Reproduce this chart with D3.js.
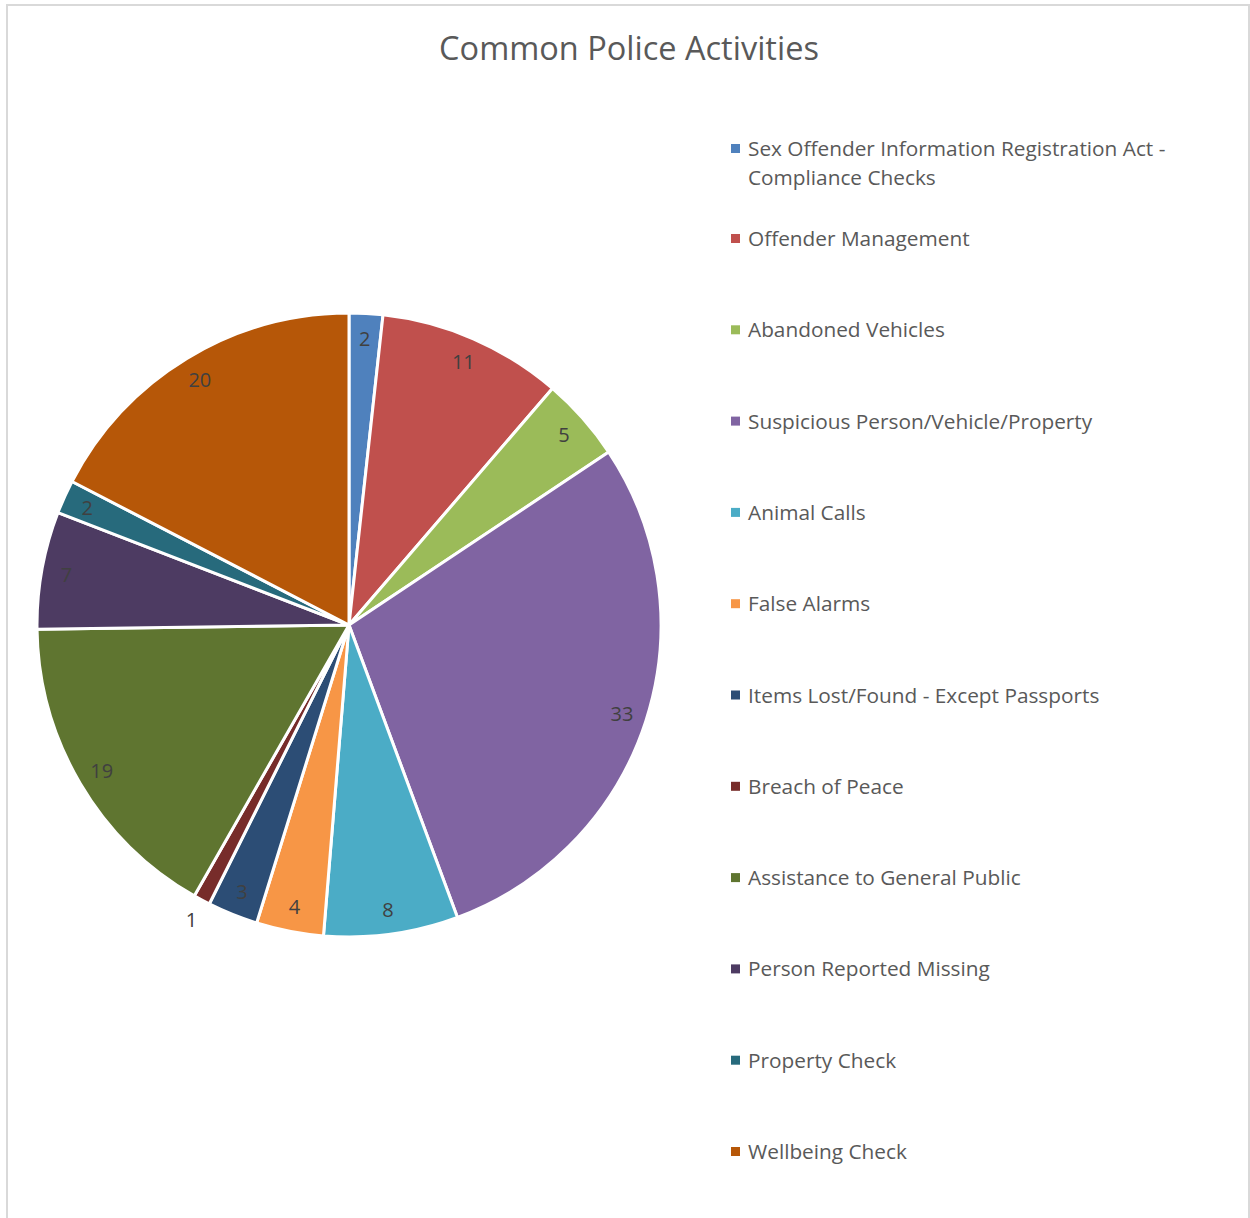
<!DOCTYPE html>
<html><head><meta charset="utf-8">
<script src="https://cdn.jsdelivr.net/npm/d3@7/dist/d3.min.js"></script>
<style>html,body{margin:0;padding:0;background:#fff;}</style>
</head><body>
<svg id="chart" width="1250" height="1218"></svg>
<script>
const title = "Common Police Activities";
const categories = [
  "Sex Offender Information Registration Act - Compliance Checks",
  "Offender Management",
  "Abandoned Vehicles",
  "Suspicious Person/Vehicle/Property",
  "Animal Calls",
  "False Alarms",
  "Items Lost/Found - Except Passports",
  "Breach of Peace",
  "Assistance to General Public",
  "Person Reported Missing",
  "Property Check",
  "Wellbeing Check"
];
const legendLines = [
  ["Sex Offender Information Registration Act -", "Compliance Checks"],
  ["Offender Management"],
  ["Abandoned Vehicles"],
  ["Suspicious Person/Vehicle/Property"],
  ["Animal Calls"],
  ["False Alarms"],
  ["Items Lost/Found - Except Passports"],
  ["Breach of Peace"],
  ["Assistance to General Public"],
  ["Person Reported Missing"],
  ["Property Check"],
  ["Wellbeing Check"]
];
const values = [2, 11, 5, 33, 8, 4, 3, 1, 19, 7, 2, 20];
const colors = ["#4F81BD","#C0504D","#9BBB59","#8064A2","#4BACC6","#F79646",
                "#2C4D75","#772C2A","#5F7530","#4D3B62","#276A7C","#B65708"];

const svg = d3.select("#chart");
const font = "'Open Sans', sans-serif";

// frame
svg.append("rect").attr("x", 7).attr("y", 5).attr("width", 1242).attr("height", 1230)
  .attr("fill", "none").attr("stroke", "#d9d9d9").attr("stroke-width", 2);

// title
svg.append("text").attr("x", 629).attr("y", 60).attr("text-anchor", "middle")
  .attr("font-family", font).attr("font-size", 32.5).attr("fill", "#595959").text(title);

const cx = 349, cy = 625, r = 312;
const data = values.map((v, i) => ({name: categories[i], value: v, color: colors[i]}));
const pie = d3.pie().sort(null).value(d => d.value);
const arcs = pie(data);
const arc = d3.arc().innerRadius(0).outerRadius(r);

const g = svg.append("g").attr("transform", `translate(${cx},${cy})`);
g.selectAll("path").data(arcs).join("path")
  .attr("d", arc).attr("fill", d => d.data.color)
  .attr("stroke", "#fff").attr("stroke-width", 3).attr("stroke-linejoin", "round");

const total = d3.sum(values);
g.selectAll("text.lbl").data(arcs).join("text").attr("class", "lbl")
  .each(function(d) {
    const a = (d.startAngle + d.endAngle) / 2;
    const small = d.data.value / total < 0.015;
    const rr = small ? r * 1.07 : r * 0.92;
    d3.select(this).attr("x", Math.sin(a) * rr).attr("y", -Math.cos(a) * rr);
  })
  .attr("text-anchor", "middle").attr("dominant-baseline", "central")
  .attr("font-family", font).attr("font-size", 20).attr("fill", "#404040")
  .text(d => d.data.value);

// legend
const lg = svg.append("g");
legendLines.forEach((lines, i) => {
  const y = i === 0 ? 148 : 238 + (i - 1) * 91.3;
  lg.append("rect").attr("x", 731).attr("y", y - 4).attr("width", 9).attr("height", 9)
    .attr("fill", colors[i]);
  lines.forEach((t, j) => {
    lg.append("text").attr("x", 748).attr("y", y + j * 29)
      .attr("dominant-baseline", "central")
      .attr("font-family", font).attr("font-size", 20.8).attr("fill", "#595959").text(t);
  });
});
</script>
</body></html>
